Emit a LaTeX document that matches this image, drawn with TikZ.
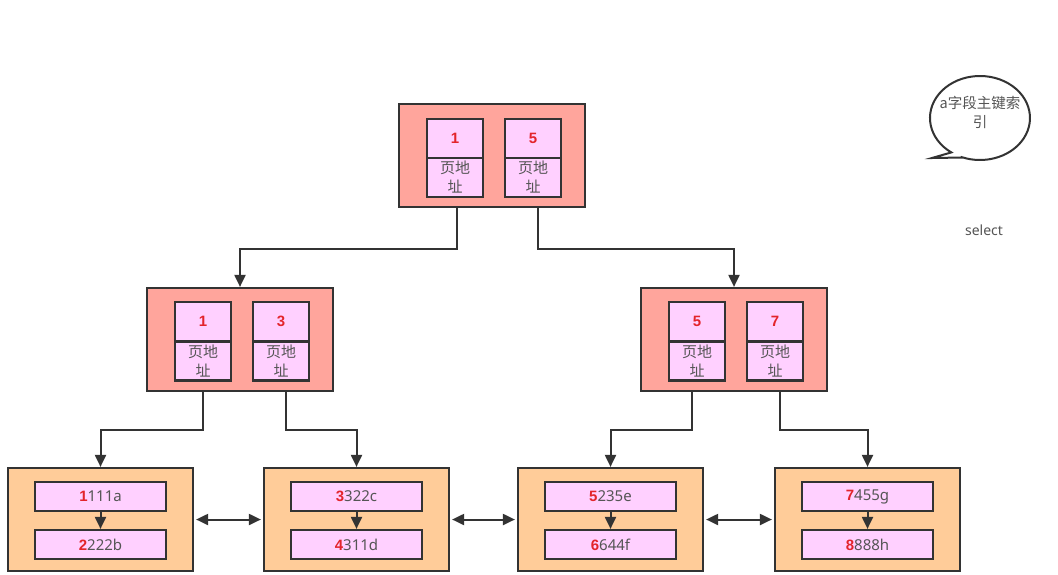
\documentclass[tikz,border=0pt]{standalone}
\usepackage{fontspec}
\setmainfont{Noto Sans}
\newfontfamily\cjk{Noto Sans CJK SC}
\newfontfamily\numfont{Liberation Sans}
\usetikzlibrary{arrows.meta}
\definecolor{bd}{HTML}{333333}
\definecolor{salmon}{HTML}{FFA59C}
\definecolor{leafc}{HTML}{FFCC99}
\definecolor{cellc}{HTML}{FFD0FF}
\definecolor{num}{HTML}{E3242B}
\definecolor{txt}{HTML}{555555}
\tikzset{
  page/.style={draw=bd,line width=2.2pt,fill=salmon,minimum width=186pt,minimum height=103pt,inner sep=0pt},
  leafbox/.style={draw=bd,line width=2.2pt,fill=leafc,minimum width=185pt,minimum height=103pt,inner sep=0pt},
  keycell/.style={draw=bd,line width=2.2pt,fill=cellc,minimum width=56pt,minimum height=39pt,inner sep=0pt,text=num,font=\numfont\bfseries\fontsize{15}{15}\selectfont},
  addrcell/.style={draw=bd,line width=2.2pt,fill=cellc,minimum width=56pt,minimum height=39pt,inner sep=0pt,text=txt,align=center,font=\cjk\fontsize{15}{19}\selectfont},
  rowcell/.style={draw=bd,line width=2.2pt,fill=cellc,minimum width=131pt,minimum height=29pt,inner sep=0pt,text=txt,font=\fontsize{15}{15}\selectfont},
  link/.style={draw=bd,line width=2pt,-{Triangle[length=12pt,width=11pt]}},
  both/.style={draw=bd,line width=2pt,{Triangle[length=12pt,width=11pt]}-{Triangle[length=12pt,width=11pt]},shorten <=2pt,shorten >=2pt},
  plain/.style={text=txt,align=center,font=\cjk\fontsize{14.5}{19}\selectfont}
}
\newcommand{\kn}[1]{\textcolor{num}{\numfont\bfseries #1}}
\begin{document}
\begin{tikzpicture}[x=1pt,y=-1pt]
\fill[white] (0,0) rectangle (1058,574);
\useasboundingbox (0,0) rectangle (1058,574);

% root page
\node[page] (root) at (492,155.5) {};
\node[keycell] (rk1) at (455,138.5) {1};
\node[addrcell] (ra1) at (455,177.5) {页地\\址};
\node[keycell] (rk2) at (533,138.5) {5};
\node[addrcell] (ra2) at (533,177.5) {页地\\址};

% level 2 left
\node[page] (pl) at (240,339.5) {};
\node[keycell] (lk1) at (203,321.5) {1};
\node[addrcell] (la1) at (203,361) {页地\\址};
\node[keycell] (lk2) at (281,321.5) {3};
\node[addrcell] (la2) at (281,361) {页地\\址};

% level 2 right
\node[page] (pr) at (734,339.5) {};
\node[keycell] (mk1) at (697,321.5) {5};
\node[addrcell] (ma1) at (697,361) {页地\\址};
\node[keycell] (mk2) at (775,321.5) {7};
\node[addrcell] (ma2) at (775,361) {页地\\址};

% leaves
\node[leafbox] (f1) at (100.5,519.5) {};
\node[rowcell] (f1a) at (100.5,496.5) {\kn{1}111a};
\node[rowcell] (f1b) at (100.5,544.5) {\kn{2}222b};
\node[leafbox] (f2) at (356.5,519.5) {};
\node[rowcell] (f2a) at (356.5,496.5) {\kn{3}322c};
\node[rowcell] (f2b) at (356.5,544.5) {\kn{4}311d};
\node[leafbox] (f3) at (610.5,519.5) {};
\node[rowcell] (f3a) at (610.5,496.5) {\kn{5}235e};
\node[rowcell] (f3b) at (610.5,544.5) {\kn{6}644f};
\node[leafbox] (f4) at (867.5,519.5) {};
\node[rowcell] (f4a) at (867.5,496.5) {\kn{7}455g};
\node[rowcell] (f4b) at (867.5,544.5) {\kn{8}888h};

% root -> level 2
\draw[link] ([xshift=2pt]ra1.south |- root.south) -- ++(0,41) -| (pl.north);
\draw[link] ([xshift=5pt]ra2.south |- root.south) -- ++(0,41) -| (pr.north);
% level 2 -> leaves
\draw[link] (la1.south |- pl.south) -- ++(0,38) -| (f1.north);
\draw[link] ([xshift=5pt]la2.south |- pl.south) -- ++(0,38) -| (f2.north);
\draw[link] ([xshift=-5pt]ma1.south |- pr.south) -- ++(0,38) -| (f3.north);
\draw[link] ([xshift=5pt]ma2.south |- pr.south) -- ++(0,38) -| (f4.north);
% inside leaves
\draw[link] (f1a) -- (f1b);
\draw[link] (f2a) -- (f2b);
\draw[link] (f3a) -- (f3b);
\draw[link] (f4a) -- (f4b);
% sibling links
\draw[both] (f1.east) -- (f2.west);
\draw[both] (f2.east) -- (f3.west);
\draw[both] (f3.east) -- (f4.west);

% speech bubble
\coordinate (tip) at (932,158);
\draw[bd,line width=2pt,fill=white] (962.9,157.5) -- (tip) -- (951.3,152.4)
  arc[start angle=125,end angle=470,x radius=50,y radius=42] -- cycle;
\node[plain] (bub) at (980,112) {a字段主键索\\引};
\node[plain,font=\fontsize{14}{14}\selectfont] (sel) at (984,230) {select};
\end{tikzpicture}
\end{document}
